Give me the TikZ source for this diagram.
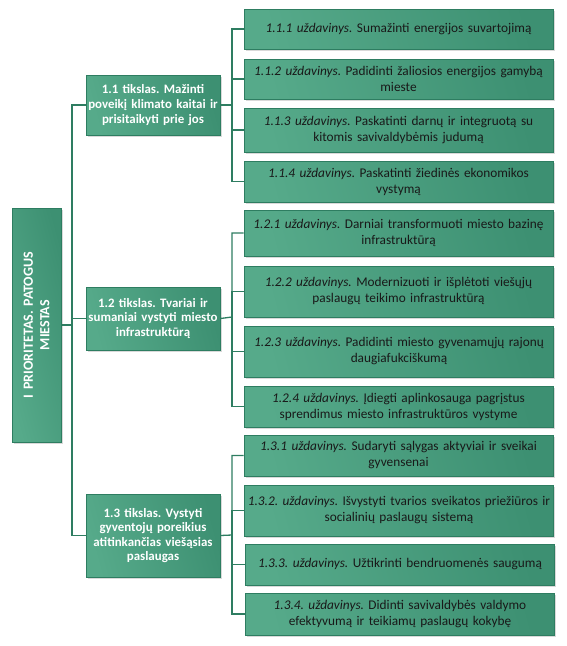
\documentclass[tikz,border=0pt]{standalone}
\usepackage{fontspec}
\setmainfont{Carlito}
\frenchspacing
\usetikzlibrary{shadows}
\definecolor{boxgreen}{HTML}{56AA8A}
\definecolor{boxdark}{HTML}{3D9072}
\definecolor{linegreen}{HTML}{2E7D61}
\begin{document}
\begin{tikzpicture}[x=1pt,y=-1pt,
		box_style/.style={draw=linegreen,line width=0.8pt,left color=boxgreen,right color=boxdark,shading angle=105,
			drop shadow={opacity=0.3,shadow xshift=1.5pt,shadow yshift=-1.5pt},align=center,inner ysep=2pt},
		root_style/.style={box_style,text=white,font=\fontsize{14}{16.5}\selectfont\bfseries,rotate=90,
			minimum width=234,minimum height=49,text width=226,inner xsep=4pt},
		goal_style/.style={box_style,text=white,font=\fontsize{12.9}{14.6}\selectfont\bfseries,
			text width=130,inner xsep=2pt},
		task_style/.style={box_style,text=black!90,font=\fontsize{13.3}{16}\selectfont,
			text width=303,inner xsep=3pt},
		edge_style/.style={draw=linegreen,line width=1.3pt}]

		\useasboundingbox (0,0) rectangle (567,646);

		\node[root_style] (root) at (36.5,325) {I PRIORITETAS. PATOGUS\\MIESTAS};

		\node[goal_style,minimum height=60] (g11) at (153,105) {1.1 tikslas. Mažinti\\poveikį klimato kaitai ir\\prisitaikyti prie jos};
		\node[goal_style,minimum height=63] (g12) at (153,318.5) {1.2 tikslas. Tvariai ir\\sumaniai vystyti miesto\\infrastruktūrą};
		\node[goal_style,minimum height=83] (g13) at (153,535.5) {1.3 tikslas. Vystyti\\gyventojų poreikius\\atitinkančias viešąsias\\paslaugas};

		\node[task_style,minimum height=40] (t111) at (398.5,29) {\emph{1.1.1 uždavinys.} Sumažinti energijos suvartojimą};
		\node[task_style,minimum height=40] (t112) at (398.5,79) {\emph{1.1.2 uždavinys.} Padidinti žaliosios energijos gamybą\\mieste};
		\node[task_style,minimum height=44] (t113) at (398.5,130) {\emph{1.1.3 uždavinys.} Paskatinti darnų ir integruotą su\\kitomis savivaldybėmis judumą};
		\node[task_style,minimum height=41] (t114) at (398.5,181.5) {\emph{1.1.4 uždavinys.} Paskatinti žiedinės ekonomikos\\vystymą};

		\node[task_style,minimum height=46] (t121) at (398.5,233) {\emph{1.2.1 uždavinys.} Darniai transformuoti miesto bazinę\\infrastruktūrą};
		\node[task_style,minimum height=51] (t122) at (398.5,291.5) {\emph{1.2.2 uždavinys.} Modernizuoti ir išplėtoti viešųjų\\paslaugų teikimo infrastruktūrą};
		\node[task_style,minimum height=51] (t123) at (399,351.5) {\emph{1.2.3 uždavinys.} Padidinti miesto gyvenamųjų rajonų\\daugiafukciškumą};
		\node[task_style,minimum height=41] (t124) at (398.5,406.5) {\emph{1.2.4 uždavinys.} Įdiegti aplinkosauga pagrįstus\\sprendimus miesto infrastruktūros vystyme};

		\node[task_style,minimum height=41] (t131) at (398.5,455.5) {\emph{1.3.1 uždavinys.} Sudaryti sąlygas aktyviai ir sveikai\\gyvensenai};
		\node[task_style,minimum height=51] (t132) at (399,510.5) {\emph{1.3.2. uždavinys.} Išvystyti tvarios sveikatos priežiūros ir\\socialinių paslaugų sistemą};
		\node[task_style,minimum height=41] (t133) at (400,564.5) {\emph{1.3.3. uždavinys.} Užtikrinti bendruomenės saugumą};
		\node[task_style,minimum height=42] (t134) at (400,614) {\emph{1.3.4. uždavinys.} Didinti savivaldybės valdymo\\efektyvumą ir teikiamų paslaugų kokybę};

		\coordinate (b0) at (72,325);
		\coordinate (b11) at (232,105);
		\coordinate (b12) at (232,317);
		\coordinate (b13) at (232,535);

		\draw[edge_style]  (root.south) -- (b0) |- (g11.west);
		\draw[edge_style]  (b0) |- (g12.west);
		\draw[edge_style]  (b0) |- (g13.west);

		\draw[edge_style]  (g11.east) -- (b11) |- (t111.west);
		\draw[edge_style]  (b11) |- (t112.west);
		\draw[edge_style]  (b11) |- (t113.west);
		\draw[edge_style]  (b11) |- (t114.west);

		\draw[edge_style]  (g12.east) -- (b12) |- (t121.west);
		\draw[edge_style]  (b12) |- (t122.west);
		\draw[edge_style]  (b12) |- (t123.west);
		\draw[edge_style]  (b12) |- (t124.west);

		\draw[edge_style]  (g13.east) -- (b13) |- (t131.west);
		\draw[edge_style]  (b13) |- (t132.west);
		\draw[edge_style]  (b13) |- (t133.west);
		\draw[edge_style]  (b13) |- (t134.west);

		\end{tikzpicture}
\end{document}
